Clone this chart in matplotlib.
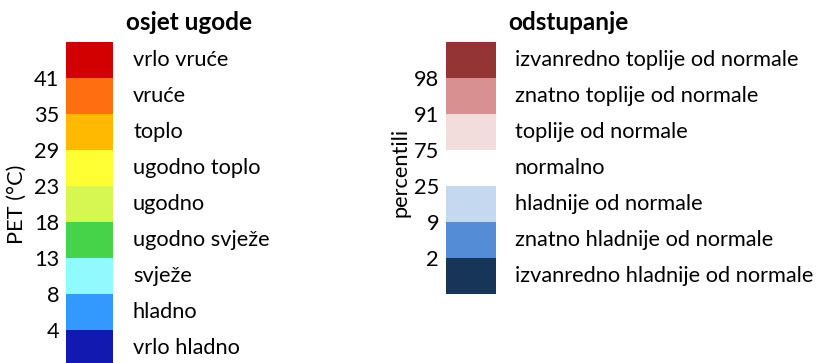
import matplotlib
matplotlib.use("Agg")
import matplotlib.pyplot as plt
import matplotlib.transforms as mtransforms

plt.rcParams['font.family'] = ['Lato', 'DejaVu Sans']

# Thermal comfort classes (PET, °C), listed from coldest to hottest
pet_labels = ["vrlo hladno", "hladno", "svježe", "ugodno svježe", "ugodno",
              "ugodno toplo", "toplo", "vruće", "vrlo vruće"]
pet_colors = ["#1119B0", "#3399FF", "#91FAFF", "#46D34A", "#D6F752",
              "#FFFF33", "#FFBA00", "#FF6F11", "#D30000"]
pet_bounds = ["4", "8", "13", "18", "23", "29", "35", "41"]

# Deviation classes (percentiles), listed from coldest to warmest
dev_labels = ["izvanredno hladnije od normale", "znatno hladnije od normale",
              "hladnije od normale", "normalno", "toplije od normale",
              "znatno toplije od normale", "izvanredno toplije od normale"]
dev_colors = ["#173559", "#548CD5", "#C4D8EF", "#FFFFFF", "#F2DCDC",
              "#D99090", "#943434"]
dev_bounds = ["2", "9", "25", "75", "91", "98"]

W, H = 825, 363
fig = plt.figure(figsize=(W / 100, H / 100), dpi=100)

FS = 15.7


def px_axes(x0, x1, ytop, ybot):
    return fig.add_axes([x0 / W, 1 - ybot / H, (x1 - x0) / W, (ybot - ytop) / H])


def draw_scale(ax, labels, colors, bounds, title, label_x, title_x):
    n = len(labels)
    ax.bar([0] * n, [1] * n, width=1, bottom=list(range(n)), color=colors,
           align="edge", linewidth=0)
    ax.set_xlim(0, 1)
    ax.set_ylim(0, n)
    for s in ax.spines.values():
        s.set_visible(False)
    ax.set_xticks([])
    ax.set_yticks(range(1, len(bounds) + 1))
    ax.set_yticklabels(bounds, fontsize=FS)
    ax.tick_params(axis="y", length=0, pad=5)
    trans = mtransforms.blended_transform_factory(fig.transFigure, ax.transData)
    for i, lab in enumerate(labels):
        fig.text(label_x / W, i + 0.5, lab, fontsize=FS, va="center", ha="left",
                 transform=trans)
    fig.text(title_x / W, 1 - 22 / H, title, fontsize=FS + 1.8, fontweight="bold",
             va="center", ha="left")


ax1 = px_axes(66, 113, 42, 366)
draw_scale(ax1, pet_labels, pet_colors, pet_bounds, "osjet ugode", 133, 126)
fig.text(17 / W, 1 - 204 / H, "PET (°C)", fontsize=FS, rotation=90,
         va="center", ha="center")

ax2 = px_axes(446, 496, 42, 294)
draw_scale(ax2, dev_labels, dev_colors, dev_bounds, "odstupanje", 515, 508)
fig.text(400 / W, 1 - 172 / H, "percentili", fontsize=FS, rotation=90,
         va="center", ha="center")

fig.savefig("out.png", dpi=100)
